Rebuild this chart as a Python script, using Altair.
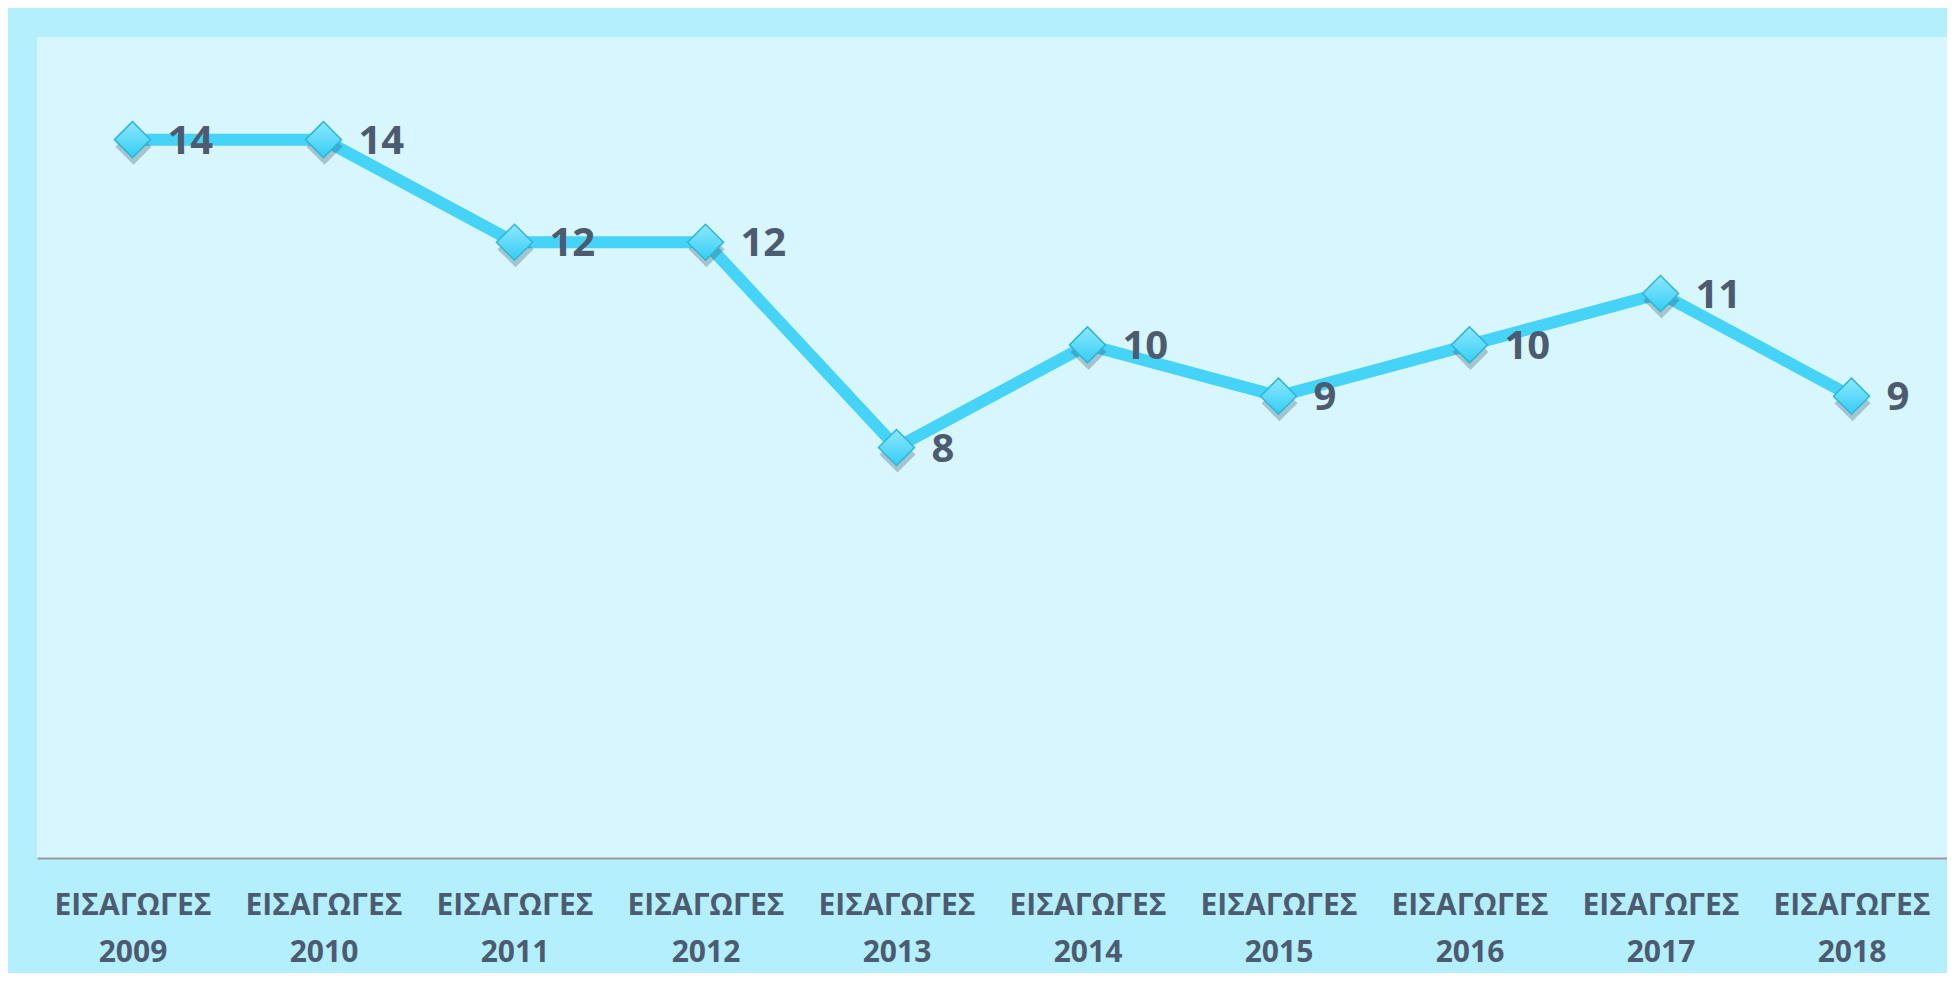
import altair as alt
import pandas as pd

categories = ["ΕΙΣΑΓΩΓΕΣ 2009", "ΕΙΣΑΓΩΓΕΣ 2010", "ΕΙΣΑΓΩΓΕΣ 2011", "ΕΙΣΑΓΩΓΕΣ 2012",
              "ΕΙΣΑΓΩΓΕΣ 2013", "ΕΙΣΑΓΩΓΕΣ 2014", "ΕΙΣΑΓΩΓΕΣ 2015", "ΕΙΣΑΓΩΓΕΣ 2016",
              "ΕΙΣΑΓΩΓΕΣ 2017", "ΕΙΣΑΓΩΓΕΣ 2018"]
values = [14, 14, 12, 12, 8, 10, 9, 10, 11, 9]

df = pd.DataFrame({"cat": categories, "val": values})

FONT = "Open Sans"
TEXT_COLOR = "#4d5b70"

x = alt.X("cat:N", sort=categories, title=None,
          scale=alt.Scale(type="point", padding=0.5),
          axis=alt.Axis(labelAngle=0, labelExpr="split(datum.label, ' ')",
                        labelFont=FONT, labelFontSize=30, labelFontWeight="bold",
                        labelColor=TEXT_COLOR, labelLineHeight=47, labelPadding=32,
                        ticks=False, grid=False, domainColor="#9a9a9a", domainWidth=2,
                        labelBaseline="top"))
y = alt.Y("val:Q", title=None, scale=alt.Scale(domain=[0, 16], nice=False), axis=None)

base = alt.Chart(df).encode(x=x, y=y)

line = base.mark_line(color="#45d4f8", strokeWidth=12, strokeJoin="round")

shadow = base.mark_point(shape="diamond", size=1300, filled=True, color="#30505a",
                         opacity=0.3, yOffset=7, xOffset=1)

points = base.mark_point(
    shape="diamond", size=1300, filled=True, opacity=1,
    fill=alt.LinearGradient(gradient="linear",
                            stops=[alt.GradientStop(color="#8ee8fd", offset=0),
                                   alt.GradientStop(color="#34cdf6", offset=1)],
                            x1=0, x2=0, y1=0, y2=1),
    stroke="#2cb7db", strokeWidth=1.5)

labels = base.mark_text(align="left", baseline="middle", dx=35, dy=2,
                        font=FONT, fontSize=40, fontWeight="bold",
                        color=TEXT_COLOR).encode(text="val:Q")

chart = (line + shadow + points + labels).properties(
    width=1910, height=821,
    background="#b4effe",
    padding={"left": 29, "top": 29, "right": 0, "bottom": 115},
    autosize=alt.AutoSizeParams(type="none"),
).configure_view(fill="#d8f6fe", stroke=None)

chart.save("out.html", embed_options={"renderer": "svg", "actions": False})
